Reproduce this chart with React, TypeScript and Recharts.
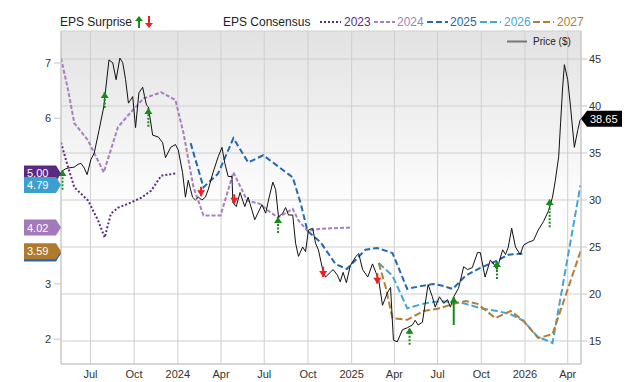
import React from "react";
import {
  ComposedChart,
  Line,
  XAxis,
  YAxis,
  CartesianGrid,
  ReferenceLine,
  ReferenceDot,
} from "recharts";

const FONT = "'Liberation Sans', Arial, Helvetica, sans-serif";

// ---- data ----
const priceRows: [string, number][] = [
  ["2023-04-30", 33.0], ["2023-05-09", 33.3], ["2023-05-15", 33.4], ["2023-05-28", 33.5],
  ["2023-06-05", 33.8], ["2023-06-11", 33.9], ["2023-06-18", 33.4], ["2023-06-24", 32.7],
  ["2023-07-02", 34.3], ["2023-07-09", 35.0], ["2023-07-19", 37.4], ["2023-07-29", 39.9],
  ["2023-08-09", 44.9], ["2023-08-17", 44.6], ["2023-08-24", 42.8], ["2023-09-01", 45.1],
  ["2023-09-07", 44.6], ["2023-09-13", 42.8], ["2023-09-19", 40.3], ["2023-09-28", 41.0],
  ["2023-10-04", 37.7], ["2023-10-11", 41.4], ["2023-10-19", 42.0], ["2023-10-23", 41.0],
  ["2023-10-27", 40.1], ["2023-10-31", 39.9], ["2023-11-09", 36.9], ["2023-11-21", 36.7],
  ["2023-11-30", 36.1], ["2023-12-06", 34.5], ["2023-12-17", 35.6], ["2023-12-27", 35.9],
  ["2024-01-02", 35.3], ["2024-01-11", 32.9], ["2024-01-17", 30.3], ["2024-01-23", 32.1],
  ["2024-02-01", 30.3], ["2024-02-07", 30.0], ["2024-02-13", 30.3], ["2024-02-21", 30.0],
  ["2024-02-28", 30.3], ["2024-03-05", 31.1], ["2024-03-15", 32.9], ["2024-03-26", 34.6],
  ["2024-04-03", 35.6], ["2024-04-09", 33.9], ["2024-04-16", 32.5], ["2024-04-24", 32.5],
  ["2024-04-26", 29.7], ["2024-05-03", 29.3], ["2024-05-11", 30.8], ["2024-05-21", 29.3],
  ["2024-05-28", 30.3], ["2024-06-11", 27.9], ["2024-06-26", 29.5], ["2024-07-04", 28.6],
  ["2024-07-10", 30.0], ["2024-07-19", 31.9], ["2024-07-25", 31.1], ["2024-07-31", 28.2],
  ["2024-08-09", 28.6], ["2024-08-15", 29.2], ["2024-08-21", 28.4], ["2024-08-30", 28.4],
  ["2024-09-05", 25.4], ["2024-09-11", 24.0], ["2024-09-20", 25.0], ["2024-09-26", 24.5],
  ["2024-10-02", 26.8], ["2024-10-11", 27.0], ["2024-10-17", 25.4], ["2024-10-23", 24.7],
  ["2024-11-01", 22.6], ["2024-11-07", 21.8], ["2024-11-17", 22.3], ["2024-11-23", 22.6],
  ["2024-12-02", 22.0], ["2024-12-08", 21.3], ["2024-12-14", 22.3], ["2024-12-21", 21.2],
  ["2024-12-29", 23.0], ["2025-01-10", 24.0], ["2025-01-16", 24.3], ["2025-01-24", 22.6],
  ["2025-02-04", 21.8], ["2025-02-14", 23.2], ["2025-02-21", 22.3], ["2025-02-27", 21.5],
  ["2025-03-07", 18.8], ["2025-03-18", 20.2], ["2025-03-24", 20.7], ["2025-03-30", 15.1],
  ["2025-04-07", 14.9], ["2025-04-18", 16.2], ["2025-04-28", 16.4], ["2025-05-09", 16.7],
  ["2025-05-15", 17.2], ["2025-05-21", 16.7], ["2025-05-30", 17.0], ["2025-06-05", 19.0],
  ["2025-06-11", 21.0], ["2025-06-20", 19.7], ["2025-06-26", 18.6], ["2025-07-05", 19.7],
  ["2025-07-14", 19.0], ["2025-07-22", 19.4], ["2025-07-28", 18.6], ["2025-08-04", 19.7],
  ["2025-08-14", 20.6], ["2025-08-25", 22.9], ["2025-09-02", 22.6], ["2025-09-12", 22.8],
  ["2025-09-23", 24.4], ["2025-09-29", 24.4], ["2025-10-09", 21.8], ["2025-10-20", 23.6],
  ["2025-10-26", 23.3], ["2025-11-03", 22.6], ["2025-11-15", 24.7], ["2025-11-21", 24.2],
  ["2025-11-27", 25.0], ["2025-12-04", 27.0], ["2025-12-12", 25.0], ["2025-12-22", 24.2],
  ["2025-12-29", 25.2], ["2026-01-08", 25.5], ["2026-01-19", 25.7], ["2026-01-29", 26.8],
  ["2026-02-09", 27.7], ["2026-02-20", 28.9], ["2026-02-28", 30.3], ["2026-03-06", 32.1],
  ["2026-03-13", 34.6], ["2026-03-17", 38.2], ["2026-03-21", 41.7], ["2026-03-25", 44.4],
  ["2026-04-01", 42.8], ["2026-04-07", 39.9], ["2026-04-15", 35.6], ["2026-04-22", 37.4],
  ["2026-04-27", 38.5], ["2026-04-29", 38.65],
];

const eps2023Rows: [string, number][] = [
  ["2023-04-30", 5.56], ["2023-05-15", 5.11], ["2023-05-28", 4.75], ["2023-06-26", 4.51],
  ["2023-07-17", 4.15], ["2023-07-31", 3.84], ["2023-08-13", 4.27], ["2023-08-28", 4.38],
  ["2023-09-18", 4.45], ["2023-10-16", 4.56], ["2023-11-06", 4.69], ["2023-11-27", 4.96],
  ["2023-12-27", 5.0],
];

const eps2024Rows: [string, number][] = [
  ["2023-04-30", 7.09], ["2023-05-15", 6.51], ["2023-05-28", 5.91], ["2023-06-26", 5.6],
  ["2023-07-29", 5.02], ["2023-08-28", 5.84], ["2023-09-18", 6.05], ["2023-10-21", 6.36],
  ["2023-11-27", 6.47], ["2023-12-27", 6.33], ["2024-01-13", 5.73], ["2024-02-03", 4.75],
  ["2024-02-24", 4.24], ["2024-03-31", 4.24], ["2024-04-27", 5.02], ["2024-05-26", 4.51],
  ["2024-06-22", 4.45], ["2024-07-09", 4.33], ["2024-07-30", 4.2], ["2024-08-30", 4.36],
  ["2024-09-11", 4.15], ["2024-09-30", 3.96], ["2024-10-28", 4.0], ["2024-12-29", 4.02],
];

const eps2025Rows: [string, number][] = [
  ["2024-01-28", 5.55], ["2024-02-24", 4.75], ["2024-03-26", 5.0], ["2024-04-27", 5.64],
  ["2024-05-28", 5.2], ["2024-06-29", 5.33], ["2024-08-05", 5.09], ["2024-08-30", 4.93],
  ["2024-09-16", 4.45], ["2024-09-30", 3.96], ["2024-10-28", 3.75], ["2024-11-28", 3.36],
  ["2024-12-22", 3.27], ["2025-01-30", 3.62], ["2025-02-24", 3.65], ["2025-03-28", 3.56],
  ["2025-04-28", 2.91], ["2025-05-26", 2.96], ["2025-06-22", 3.0], ["2025-07-14", 2.96],
  ["2025-08-02", 2.91], ["2025-08-29", 3.15], ["2025-09-29", 3.29], ["2025-11-03", 3.42],
  ["2025-11-27", 3.53], ["2025-12-29", 3.55],
];

const eps2026Rows: [string, number][] = [
  ["2025-02-27", 3.38], ["2025-03-28", 3.15], ["2025-04-28", 2.56], ["2025-06-05", 2.65],
  ["2025-07-07", 2.69], ["2025-08-25", 2.65], ["2025-09-29", 2.56], ["2025-11-03", 2.51],
  ["2025-12-02", 2.45], ["2025-12-29", 2.33], ["2026-01-27", 2.05], ["2026-02-28", 1.93],
  ["2026-04-28", 4.79],
];

const eps2027Rows: [string, number][] = [
  ["2025-02-27", 3.38], ["2025-03-14", 2.93], ["2025-03-28", 2.38], ["2025-04-28", 2.35],
  ["2025-06-01", 2.51], ["2025-07-01", 2.55], ["2025-08-04", 2.64], ["2025-08-29", 2.69],
  ["2025-09-23", 2.64], ["2025-10-31", 2.38], ["2025-12-02", 2.51], ["2025-12-29", 2.33],
  ["2026-01-29", 2.02], ["2026-02-28", 2.09], ["2026-04-28", 3.59],
];

// date, price at arrow tip, price at arrow tail (tip above tail = beat)
const surpriseRows: [string, number, number][] = [
  ["2023-05-03", 33.2, 31.1], ["2023-07-31", 41.5, 39.8], ["2023-10-31", 39.8, 37.8],
  ["2024-02-19", 30.4, 31.4], ["2024-04-29", 29.6, 30.6], ["2024-07-30", 28.2, 26.5],
  ["2024-11-02", 21.8, 22.9], ["2025-02-24", 21.1, 22.2], ["2025-05-03", 16.4, 14.6],
  ["2025-08-04", 19.7, 16.7], ["2025-11-03", 23.5, 21.6], ["2026-02-22", 30.1, 27.1],
];
const solidShaftDates = ["2025-08-04"];

const quarterTickDates = [
  "2023-07-01", "2023-10-01", "2024-01-01", "2024-04-01", "2024-07-01", "2024-10-01",
  "2025-01-01", "2025-04-01", "2025-07-01", "2025-10-01", "2026-01-01", "2026-04-01",
];
const quarterTickLabels = [
  "Jul", "Oct", "2024", "Apr", "Jul", "Oct", "2025", "Apr", "Jul", "Oct", "2026", "Apr",
];

// 4 and 5 sit behind the value tags, so only these show
const epsTicks = [2, 3, 6, 7];
const priceTicks = [15, 20, 25, 30, 35, 40, 45];
const lastPrice = 38.65;

const years = ["2023", "2024", "2025", "2026", "2027"];
const yearColors = ["#5b2c86", "#a57fc2", "#2467b3", "#45a6d6", "#b27e36"];
const tagColors = ["#5a2a82", "#a279ba", "#2467b3", "#3d9fd0", "#b07a2e"];
const yearDash = ["2 2", "4 2", "6 3", "7 3", "7 3"];
// the 2025 tag is covered by the 2027 one, only its edge shows
const coveredTagYears = ["2025"];

// ---- helpers ----
const toT = (s: string) => Date.parse(s + "T00:00:00Z");
const toSeries = (rows: [string, number][]) => rows.map(([d, v]) => ({ t: toT(d), v }));

const startT = toT("2023-04-30");
const endT = toT("2026-04-29");
const quarterTicks = quarterTickDates.map(toT);
const tickLabel = (v: number) => {
  const i = quarterTicks.indexOf(v);
  return i >= 0 ? quarterTickLabels[i] : "";
};

const price = toSeries(priceRows);
const epsSeries = [eps2023Rows, eps2024Rows, eps2025Rows, eps2026Rows, eps2027Rows].map(toSeries);

const LeftTag = (props: any) => {
  const { cx, cy, color, text } = props;
  return (
    <g>
      <path
        d={`M${cx - 37},${cy - 8} H${cx - 5} L${cx},${cy} L${cx - 5},${cy + 8} H${cx - 37} Z`}
        fill={color}
      />
      {text ? (
        <text x={cx - 34} y={cy + 4} fill="#fff" fontSize={11} fontFamily={FONT}>
          {text}
        </text>
      ) : null}
    </g>
  );
};

const PriceTag = (props: any) => {
  const { cx, cy } = props;
  return (
    <g>
      <path
        d={`M${cx},${cy} L${cx + 6},${cy - 8} H${cx + 41} V${cy + 8} H${cx + 6} Z`}
        fill="#000"
      />
      <text x={cx + 9} y={cy + 4} fill="#fff" fontSize={11} fontFamily={FONT}>
        {lastPrice.toFixed(2)}
      </text>
    </g>
  );
};

const ArrowHead = (props: any) => {
  const { cx, cy, up } = props;
  const d = up
    ? `M${cx},${cy} L${cx + 4},${cy + 6} H${cx - 4} Z`
    : `M${cx},${cy} L${cx + 4},${cy - 6} H${cx - 4} Z`;
  return <path d={d} fill={up ? "#178a17" : "#f21d1d"} />;
};

const LegendArrow = ({ up }: { up: boolean }) => (
  <svg width={8} height={12} style={{ display: "block" }}>
    {up ? (
      <>
        <path d="M4,0 L8,5 H0 Z" fill="#178a17" />
        <rect x={3} y={5} width={2} height={7} fill="#178a17" />
      </>
    ) : (
      <>
        <rect x={3} y={0} width={2} height={7} fill="#f21d1d" />
        <path d="M4,12 L8,7 H0 Z" fill="#f21d1d" />
      </>
    )}
  </svg>
);

const legendSampleX = [320, 374, 427, 480, 533];
const legendLabelX = [344, 397, 450, 504, 557];

export default function App() {
  return (
    <div
      style={{
        position: "absolute",
        left: 0,
        top: 0,
        width: 640,
        height: 382,
        background: "#fff",
        fontFamily: FONT,
        color: "#222",
      }}
    >
      <ComposedChart width={640} height={382} margin={{ top: 31, right: 9, bottom: 0, left: 21 }}>
        <defs>
          <linearGradient id="plotBg" x1="0" y1="0" x2="0" y2="1">
            <stop offset="0" stopColor="#e2e2e2" />
            <stop offset="0.55" stopColor="#ffffff" />
          </linearGradient>
        </defs>
        <CartesianGrid yAxisId="price" stroke="#cfcfcf" fill="url(#plotBg)" />
        <XAxis
          dataKey="t"
          type="number"
          domain={[startT, endT]}
          allowDataOverflow
          ticks={quarterTicks}
          tickFormatter={tickLabel}
          height={18}
          tickSize={4}
          tickMargin={2}
          tickLine={false}
          axisLine={{ stroke: "#c6c6c6" }}
          tick={{ fontSize: 11, fill: "#333", fontFamily: FONT }}
          interval={0}
        />
        <YAxis
          yAxisId="eps"
          orientation="left"
          width={40}
          domain={[1.55, 7.58]}
          allowDataOverflow
          ticks={epsTicks}
          interval={0}
          tickSize={7}
          tickMargin={3}
          axisLine={{ stroke: "#c6c6c6" }}
          tickLine={{ stroke: "#c6c6c6" }}
          tick={{ fontSize: 11, fill: "#333", fontFamily: FONT }}
        />
        <YAxis
          yAxisId="price"
          orientation="right"
          width={50}
          domain={[12.55, 47.98]}
          allowDataOverflow
          ticks={priceTicks}
          interval={0}
          tickSize={6}
          tickMargin={2}
          axisLine={{ stroke: "#c6c6c6" }}
          tickLine={{ stroke: "#c6c6c6" }}
          tick={{ fontSize: 11, fill: "#333", fontFamily: FONT }}
        />

        {epsSeries.map((s, i) => (
          <Line
            key={years[i]}
            yAxisId="eps"
            data={s}
            dataKey="v"
            type="linear"
            stroke={yearColors[i]}
            strokeWidth={2}
            strokeDasharray={yearDash[i]}
            dot={false}
            activeDot={false}
            isAnimationActive={false}
          />
        ))}

        <Line
          yAxisId="price"
          data={price}
          dataKey="v"
          type="linear"
          stroke="#111"
          strokeWidth={1}
          dot={false}
          activeDot={false}
          isAnimationActive={false}
        />

        {surpriseRows.map(([d, tip, tail]) => {
          const up = tip > tail;
          const solid = solidShaftDates.includes(d);
          return (
            <ReferenceLine
              key={"s" + d}
              yAxisId="price"
              segment={[
                { x: toT(d), y: tail },
                { x: toT(d), y: tip },
              ]}
              stroke={up ? "#178a17" : "#f21d1d"}
              strokeWidth={2}
              strokeDasharray={up && !solid ? "2 1.5" : undefined}
              ifOverflow="visible"
            />
          );
        })}
        {surpriseRows.map(([d, tip, tail]) => (
          <ReferenceDot
            key={"h" + d}
            yAxisId="price"
            x={toT(d)}
            y={tip}
            r={0}
            ifOverflow="visible"
            shape={(p: any) => <ArrowHead {...p} up={tip > tail} />}
          />
        ))}

        {epsSeries.map((s, i) => {
          const last = s[s.length - 1].v;
          const covered = coveredTagYears.includes(years[i]);
          return (
            <ReferenceDot
              key={"tag" + years[i]}
              yAxisId="eps"
              x={startT}
              y={last}
              r={0}
              ifOverflow="visible"
              shape={(p: any) => (
                <LeftTag {...p} color={tagColors[i]} text={covered ? "" : last.toFixed(2)} />
              )}
            />
          );
        })}
        <ReferenceDot
          yAxisId="price"
          x={endT}
          y={lastPrice}
          r={0}
          ifOverflow="visible"
          shape={(p: any) => <PriceTag {...p} />}
        />
      </ComposedChart>

      {/* top legend */}
      <div style={{ position: "absolute", left: 60, top: 15, fontSize: 12, lineHeight: "14px" }}>
        EPS Surprise
      </div>
      <div style={{ position: "absolute", left: 135, top: 16 }}>
        <LegendArrow up />
      </div>
      <div style={{ position: "absolute", left: 145, top: 16 }}>
        <LegendArrow up={false} />
      </div>
      <div style={{ position: "absolute", left: 223, top: 15, fontSize: 12, lineHeight: "14px" }}>
        EPS Consensus
      </div>
      {years.map((y, i) => (
        <React.Fragment key={"lg" + y}>
          <svg
            width={21}
            height={4}
            style={{ position: "absolute", left: legendSampleX[i], top: 20 }}
          >
            <line
              x1={0}
              y1={2}
              x2={21}
              y2={2}
              stroke={yearColors[i]}
              strokeWidth={2}
              strokeDasharray={yearDash[i]}
            />
          </svg>
          <div
            style={{
              position: "absolute",
              left: legendLabelX[i],
              top: 15,
              fontSize: 12,
              lineHeight: "14px",
              color: yearColors[i],
            }}
          >
            {y}
          </div>
        </React.Fragment>
      ))}

      {/* price legend inside plot */}
      <svg width={20} height={3} style={{ position: "absolute", left: 507, top: 40 }}>
        <line x1={0} y1={1.5} x2={20} y2={1.5} stroke="#777" strokeWidth={2} />
      </svg>
      <div style={{ position: "absolute", left: 533, top: 36, fontSize: 10, lineHeight: "12px" }}>
        Price ($)
      </div>
    </div>
  );
}
